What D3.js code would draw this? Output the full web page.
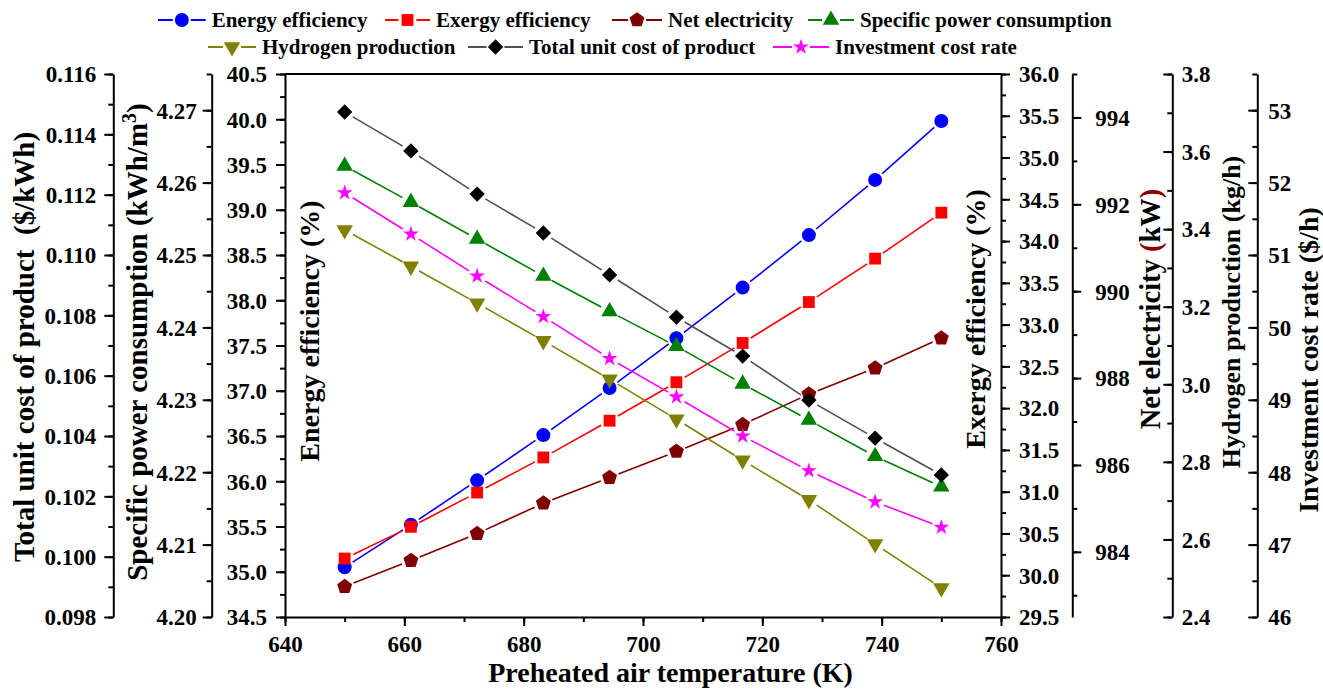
<!DOCTYPE html>
<html><head><meta charset="utf-8">
<script src="https://cdn.jsdelivr.net/npm/d3@7"></script>
<style>
body{margin:0;background:#fff}
svg{display:block}
</style>
</head><body><svg id="c" width="1323" height="689"></svg>
<script>
// ---------------- data ----------------
const temperature = [650, 661.1, 672.2, 683.3, 694.4, 705.6, 716.7, 727.8, 738.9, 750];
const energyEff   = [35.05, 35.52, 36.01, 36.51, 37.03, 37.58, 38.14, 38.72, 39.33, 39.98];
const exergyEff   = [30.20, 30.58, 30.99, 31.41, 31.85, 32.31, 32.78, 33.27, 33.79, 34.34];
const netElec     = [983.20, 983.80, 984.42, 985.12, 985.71, 986.31, 986.93, 987.63, 988.23, 988.92];
const specPower   = [4.2623, 4.2573, 4.2522, 4.2471, 4.2422, 4.2374, 4.2322, 4.2272, 4.2222, 4.2180];
const h2Prod      = [3.398, 3.304, 3.209, 3.112, 3.013, 2.910, 2.804, 2.702, 2.588, 2.475];
const totalCost   = [0.11474, 0.11345, 0.11202, 0.11073, 0.10934, 0.10794, 0.10665, 0.10519, 0.10393, 0.10271];
const investCost  = [51.86, 51.29, 50.71, 50.15, 49.57, 49.04, 48.50, 48.02, 47.59, 47.24];

const xTicks      = [640, 660, 680, 700, 720, 740, 760];
const energyTicks = [34.5, 35.0, 35.5, 36.0, 36.5, 37.0, 37.5, 38.0, 38.5, 39.0, 39.5, 40.0, 40.5];
const exergyTicks = [29.5, 30.0, 30.5, 31.0, 31.5, 32.0, 32.5, 33.0, 33.5, 34.0, 34.5, 35.0, 35.5, 36.0];
const netTicks    = [984, 986, 988, 990, 992, 994];
const h2Ticks     = [2.4, 2.6, 2.8, 3.0, 3.2, 3.4, 3.6, 3.8];
const invTicks    = [46, 47, 48, 49, 50, 51, 52, 53];
const specTicks   = [4.20, 4.21, 4.22, 4.23, 4.24, 4.25, 4.26, 4.27];
const costTicks   = [0.098, 0.100, 0.102, 0.104, 0.106, 0.108, 0.110, 0.112, 0.114, 0.116];

const seriesNames = ['Energy efficiency','Exergy efficiency','Net electricity','Specific power consumption',
                     'Hydrogen production','Total unit cost of product','Investment cost rate'];

// ---------------- layout ----------------
const FONT = "Liberation Serif";
const svg = d3.select('#c');
const L = 285, R = 1001, T = 74, B = 617;
const x = d3.scaleLinear().domain([640, 760]).range([L, R]);
const yEnergy = d3.scaleLinear().domain([34.5, 40.5]).range([B, T]);
const yExergy = d3.scaleLinear().domain([29.5, 36.0]).range([B, T]);
const yNet    = d3.scaleLinear().domain([982.5, 995]).range([B, T]);
const yH2     = d3.scaleLinear().domain([2.4, 3.8]).range([B, T]);
const yInv    = d3.scaleLinear().domain([46, 53.5]).range([B, T]);
const ySpec   = d3.scaleLinear().domain([4.20, 4.275]).range([B, T]);
const yCost   = d3.scaleLinear().domain([0.098, 0.116]).range([B, T]);

function rng(a, b, s){ const out=[]; for(let v=a; v<=b+s*1e-6; v+=s) out.push(+v.toFixed(6)); return out; }
function styleText(sel, size){
  return sel.attr('font-family', FONT).attr('font-weight','bold').attr('fill','#000').attr('font-size', size);
}

function vAxis(scale, xPos, majors, minors, fmt, tickSide, labelSide, labelGap){
  const mk = tickSide < 0 ? d3.axisLeft : d3.axisRight;
  const gm = svg.append('g').attr('transform', `translate(${xPos},0)`)
    .call(mk(scale).tickValues(minors).tickSize(5).tickSizeOuter(0).tickFormat(''));
  gm.select('.domain').remove();
  gm.selectAll('.tick line').attr('stroke','#000').attr('stroke-width',2);
  gm.selectAll('.tick text').remove();
  const g = svg.append('g').attr('transform', `translate(${xPos},0)`)
    .call(mk(scale).tickValues(majors).tickSize(9).tickSizeOuter(0).tickFormat(fmt));
  g.attr('font-family', FONT).attr('font-size', 23);
  g.select('.domain').attr('stroke','#000').attr('stroke-width',2);
  g.selectAll('.tick line').attr('stroke','#000').attr('stroke-width',2);
  styleText(g.selectAll('.tick text'), 23).attr('x', labelSide*labelGap)
    .attr('text-anchor', labelSide < 0 ? 'end' : 'start')
    .attr('dy','0.34em');
  return g;
}

// x axis
{
  const gm = svg.append('g').attr('transform', `translate(0,${B})`)
    .call(d3.axisBottom(x).tickValues(rng(640,760,10)).tickSize(5).tickSizeOuter(0).tickFormat(''));
  gm.select('.domain').remove();
  gm.selectAll('.tick line').attr('stroke','#000').attr('stroke-width',2);
  gm.selectAll('.tick text').remove();
  const g = svg.append('g').attr('transform', `translate(0,${B})`)
    .call(d3.axisBottom(x).tickValues(xTicks).tickSize(9).tickSizeOuter(0).tickFormat(d3.format('d')));
  g.attr('font-family', FONT).attr('font-size', 23);
  g.select('.domain').attr('stroke','#000').attr('stroke-width',2);
  g.selectAll('.tick line').attr('stroke','#000').attr('stroke-width',2);
  styleText(g.selectAll('.tick text'), 23).attr('y', 35).attr('dy', 0);
}
// top border
svg.append('line').attr('x1',x(640)).attr('x2',x(760)).attr('y1',T).attr('y2',T)
  .attr('stroke','#000').attr('stroke-width',2);

vAxis(yEnergy, L, energyTicks, rng(34.5,40.5,0.25), d3.format('.1f'), -1, -1, 18);
vAxis(ySpec, 211.7, specTicks, rng(4.20,4.275,0.005), d3.format('.2f'), -1, -1, 15);
vAxis(yCost, 113.3, costTicks, rng(0.098,0.116,0.001), d3.format('.3f'), -1, -1, 17);
vAxis(yExergy, R, exergyTicks, rng(29.5,36,0.25), d3.format('.1f'), 1, 1, 18);
vAxis(yNet, 1072.3, netTicks, rng(983,995,1), d3.format('d'), 1, 1, 23);
vAxis(yH2, 1172.3, h2Ticks, rng(2.4,3.8,0.1), d3.format('.1f'), -1, 1, 9.5);
vAxis(yInv, 1257.3, invTicks, rng(46,53.5,0.5), d3.format('d'), -1, 1, 11);

// axis titles
function vTitle(xb, yc, size, build){
  const t = styleText(svg.append('text'), size).attr('transform', `translate(${xb},${yc}) rotate(-90)`)
    .attr('text-anchor','middle').attr('xml:space','preserve').style('white-space','pre');
  build(t);
}
vTitle(33.5, 347, 29, t => t.text('Total unit cost of product  ($/kWh)'));
vTitle(147, 342, 29, t => {
  t.append('tspan').text('Specific power consumption (kWh/m');
  t.append('tspan').text('3').attr('dy','-0.55em').attr('font-size', 20);
  t.append('tspan').text(')').attr('dy','0.38em');
});
vTitle(319, 331, 28, t => t.text('Energy efficiency (%)'));
vTitle(985, 319, 28, t => t.text('Exergy efficiency (%)'));
vTitle(1160, 309, 28.5, t => {
  t.append('tspan').text('Net electricity ');
  t.append('tspan').text('(').attr('fill','#8B0000');
  t.append('tspan').text('kW');
  t.append('tspan').text(')').attr('fill','#8B0000');
});
vTitle(1240, 312, 26, t => t.text('Hydrogen production (kg/h)'));
vTitle(1318, 360, 28, t => t.text('Investment cost rate ($/h)'));

styleText(svg.append('text'), 28).attr('x', 670.5).attr('y', 681.5).attr('text-anchor','middle')
  .text('Preheated air temperature (K)');

// ---------------- symbols ----------------
const pentagon = { draw(ctx, size){ const r = Math.sqrt(size);
  for(let k=0;k<5;k++){ const a = -Math.PI/2 + k*2*Math.PI/5; const px=r*Math.cos(a), py=r*Math.sin(a);
    if(k===0) ctx.moveTo(px,py); else ctx.lineTo(px,py);} ctx.closePath(); } };
const symDefs = {
  circle:   {type:d3.symbolCircle, size:154, rot:0},
  square:   {type:d3.symbolSquare, size:140, rot:0},
  pentagon: {type:pentagon, size:62, rot:0},
  triUp:    {type:d3.symbolTriangle, size:118, rot:0},
  triDown:  {type:d3.symbolTriangle, size:118, rot:180},
  diamond:  {type:d3.symbolSquare, size:118, rot:45},
  star:     {type:d3.symbolStar, size:78, rot:0}
};

const series = [
  {name:seriesNames[0], vals:energyEff,  y:yEnergy, line:'#0000FF', fill:'#0000FF', sym:'circle'},
  {name:seriesNames[1], vals:exergyEff,  y:yExergy, line:'#FF0000', fill:'#FF0000', sym:'square'},
  {name:seriesNames[2], vals:netElec,    y:yNet,    line:'#800000', fill:'#800000', sym:'pentagon'},
  {name:seriesNames[3], vals:specPower,  y:ySpec,   line:'#008000', fill:'#008000', sym:'triUp'},
  {name:seriesNames[4], vals:h2Prod,     y:yH2,     line:'#808000', fill:'#808000', sym:'triDown'},
  {name:seriesNames[5], vals:totalCost,  y:yCost,   line:'#505050', fill:'#000000', sym:'diamond'},
  {name:seriesNames[6], vals:investCost, y:yInv,    line:'#FF00FF', fill:'#FF00FF', sym:'star'}
];

function drawSym(g, sym, cx, cy, fill){
  const d = symDefs[sym];
  g.append('path').attr('d', d3.symbol(d.type, d.size)())
    .attr('transform', `translate(${cx},${cy}) rotate(${d.rot})`).attr('fill', fill);
}

const gap = 9.5;
series.forEach(s => {
  const g = svg.append('g');
  const pts = temperature.map((t,i) => [x(t), s.y(s.vals[i])]);
  for(let i=0;i<pts.length-1;i++){
    const [x0,y0] = pts[i], [x1,y1] = pts[i+1];
    const dx = x1-x0, dy = y1-y0, d = Math.hypot(dx,dy), ux = dx/d, uy = dy/d;
    g.append('line').attr('x1', x0+ux*gap).attr('y1', y0+uy*gap)
      .attr('x2', x1-ux*gap).attr('y2', y1-uy*gap)
      .attr('stroke', s.line).attr('stroke-width', 1.6);
  }
  pts.forEach(p => drawSym(g, s.sym, p[0], p[1], s.fill));
});

// ---------------- legend ----------------
// [line start x, text x, row y]
const legendPos = [
  [158, 211.7, 20], [385, 436, 20], [612, 668, 20], [808, 860, 20],
  [208, 262, 47], [468, 529, 47], [773, 835, 47]
];
series.forEach((s, i) => {
  const [lx, tx, ly] = legendPos[i];
  const lx2 = tx - 6, mx = (lx + lx2) / 2;
  const g = svg.append('g');
  g.append('line').attr('x1', lx).attr('x2', mx - 9).attr('y1', ly).attr('y2', ly)
    .attr('stroke', s.line).attr('stroke-width', 2);
  g.append('line').attr('x1', mx + 9).attr('x2', lx2).attr('y1', ly).attr('y2', ly)
    .attr('stroke', s.line).attr('stroke-width', 2);
  drawSym(g, s.sym, mx, ly, s.fill);
  styleText(g.append('text'), 21).attr('x', tx).attr('y', ly+7).text(s.name);
});
</script>
</body></html>
